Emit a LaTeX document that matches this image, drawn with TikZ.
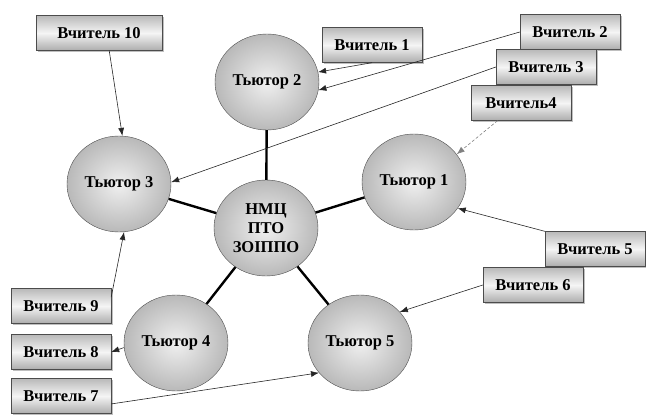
\documentclass[tikz,border=0pt]{standalone}
\usepackage{fontspec}
\setmainfont{Liberation Serif}
\usetikzlibrary{arrows.meta}
\usetikzlibrary{positioning}
\usetikzlibrary{shapes,shadows}

\begin{document}
\begin{tikzpicture}[x=1pt,y=-1pt,>={Latex[length=8pt,width=6pt]},
    tutor/.style={ellipse,draw=gray!60!black,minimum width=104pt,minimum height=96pt,
      inner sep=0pt,inner color=gray!12,outer color=gray!55,align=center,
      font=\bfseries\fontsize{16.5}{19}\selectfont},
    teacher/.style={rectangle,draw=gray!60!black,minimum width=100pt,minimum height=35pt,
      top color=gray!55,bottom color=gray!65,middle color=gray!8,
      drop shadow={shadow xshift=1.5pt,shadow yshift=-1.5pt,opacity=0.5},
      font=\bfseries\fontsize{16.5}{19}\selectfont},
    hub/.style={line width=2.4pt},
    link/.style={line width=0.6pt,black!85}]
    \useasboundingbox (0,0) rectangle (646,415);

    \node (nmc) [tutor] at (266,228) {НМЦ\\ПТО\\ЗОІППО};
    \node (t1) [tutor] at (414,182) {Тьютор 1};
    \node (t2) [tutor] at (267,82) {Тьютор 2};
    \node (t3) [tutor] at (119,184) {Тьютор 3};
    \node (t4) [tutor] at (176,343) {Тьютор 4};
    \node (t5) [tutor] at (360,343) {Тьютор 5};

    \path (nmc) edge[hub] (t1);
    \path (nmc) edge[hub] (t2);
    \path (nmc) edge[hub] (t3);
    \path (nmc) edge[hub] (t4);
    \path (nmc) edge[hub] (t5);

    \node (v10) [teacher,minimum width=126pt] at (99,33) {Вчитель 10};
    \node (v1) [teacher] at (372,45) {Вчитель 1};
    \node (v2) [teacher] at (570,32) {Вчитель 2};
    \node (v3) [teacher] at (546,67) {Вчитель 3};
    \node (v4) [teacher] at (521,103) {Вчитель4};
    \node (v5) [teacher] at (595,249) {Вчитель 5};
    \node (v6) [teacher] at (533,285) {Вчитель 6};
    \node (v9) [teacher] at (61,306) {Вчитель 9};
    \node (v8) [teacher] at (61,352) {Вчитель 8};
    \node (v7) [teacher] at (61,396) {Вчитель 7};

    \path [->] (v10.-60) edge[link] (t3.86);
    \path [->] (v1.south) edge[link] (t2.11);
    \path [->] (v2.west) edge[link] (t2.-9);
    \path [->] (v3.west) edge[link] (t3.2);
    \path [->] (v4.217) edge[link, gray, densely dashed] (t1.33);
    \path [->] (v5.north west) edge[link] (t1.-31);
    \path [->] (v6.west) edge[link] (t5.38);
    \path [->] (v9.10) edge[link] (t3.-84);
    \path [->] (t4.185) edge[link] (v8.east);
    \path [->] (v7.-9) edge[link] (t5.216);
\end{tikzpicture}
\end{document}
